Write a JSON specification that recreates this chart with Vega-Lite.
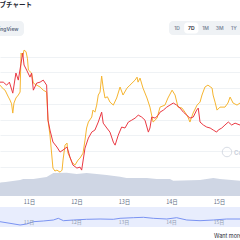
{
"$schema":"https://vega.github.io/schema/vega-lite/v6.json",
"width":240,"height":240,"autosize":"none","padding":0,"background":"#ffffff",
"config":{"view":{"stroke":null},"font":"Inter"},
"datasets":{
"price":[
{"h":9.35,"v":71.9,"s":"compare"},{"h":11.0,"v":69.5,"s":"compare"},{"h":11.9,"v":68.7,"s":"compare"},{"h":13.6,"v":64.3,"s":"compare"},{"h":14.4,"v":62.4,"s":"compare"},{"h":15.2,"v":60.0,"s":"compare"},{"h":15.8,"v":54.1,"s":"compare"},{"h":16.4,"v":60.5,"s":"compare"},{"h":17.4,"v":63.7,"s":"compare"},{"h":18.6,"v":65.6,"s":"compare"},{"h":19.5,"v":67.5,"s":"compare"},{"h":20.0,"v":92.3,"s":"compare"},{"h":20.8,"v":90.0,"s":"compare"},{"h":21.5,"v":94.2,"s":"compare"},{"h":22.5,"v":93.2,"s":"compare"},{"h":23.2,"v":89.0,"s":"compare"},{"h":23.7,"v":81.5,"s":"compare"},{"h":25.3,"v":79.6,"s":"compare"},{"h":26.2,"v":73.2,"s":"compare"},{"h":27.9,"v":71.9,"s":"compare"},{"h":29.6,"v":70.7,"s":"compare"},{"h":31.2,"v":68.7,"s":"compare"},{"h":32.9,"v":67.5,"s":"compare"},{"h":33.6,"v":49.6,"s":"compare"},{"h":34.6,"v":40.1,"s":"compare"},{"h":36.1,"v":19.1,"s":"compare"},{"h":37.1,"v":17.2,"s":"compare"},{"h":38.1,"v":17.8,"s":"compare"},{"h":39.7,"v":16.5,"s":"compare"},{"h":40.7,"v":17.8,"s":"compare"},{"h":41.2,"v":24.2,"s":"compare"},{"h":42.2,"v":33.7,"s":"compare"},{"h":43.2,"v":35.0,"s":"compare"},{"h":43.7,"v":28.6,"s":"compare"},{"h":45.7,"v":22.9,"s":"compare"},{"h":47.2,"v":21.0,"s":"compare"},{"h":48.8,"v":24.2,"s":"compare"},{"h":49.8,"v":25.5,"s":"compare"},{"h":51.3,"v":28.6,"s":"compare"},{"h":52.3,"v":36.9,"s":"compare"},{"h":53.1,"v":44.6,"s":"compare"},{"h":54.0,"v":48.4,"s":"compare"},{"h":55.7,"v":51.6,"s":"compare"},{"h":56.3,"v":56.0,"s":"compare"},{"h":57.3,"v":54.7,"s":"compare"},{"h":58.2,"v":59.2,"s":"compare"},{"h":59.0,"v":65.6,"s":"compare"},{"h":59.9,"v":67.5,"s":"compare"},{"h":60.7,"v":77.7,"s":"compare"},{"h":61.5,"v":70.0,"s":"compare"},{"h":62.4,"v":63.7,"s":"compare"},{"h":63.6,"v":64.5,"s":"compare"},{"h":64.9,"v":61.1,"s":"compare"},{"h":66.6,"v":59.2,"s":"compare"},{"h":68.3,"v":63.7,"s":"compare"},{"h":70.0,"v":70.7,"s":"compare"},{"h":71.5,"v":65.6,"s":"compare"},{"h":73.5,"v":70.0,"s":"compare"},{"h":75.0,"v":71.9,"s":"compare"},{"h":77.6,"v":75.1,"s":"compare"},{"h":78.6,"v":77.0,"s":"compare"},{"h":79.1,"v":73.8,"s":"compare"},{"h":80.1,"v":76.4,"s":"compare"},{"h":81.6,"v":70.0,"s":"compare"},{"h":83.6,"v":63.7,"s":"compare"},{"h":85.1,"v":57.9,"s":"compare"},{"h":86.7,"v":48.4,"s":"compare"},{"h":88.7,"v":50.9,"s":"compare"},{"h":90.2,"v":57.9,"s":"compare"},{"h":92.7,"v":59.2,"s":"compare"},{"h":94.2,"v":63.7,"s":"compare"},{"h":96.3,"v":68.7,"s":"compare"},{"h":97.8,"v":65.6,"s":"compare"},{"h":99.3,"v":57.9,"s":"compare"},{"h":101.3,"v":57.3,"s":"compare"},{"h":102.8,"v":54.7,"s":"compare"},{"h":104.3,"v":51.6,"s":"compare"},{"h":105.3,"v":48.4,"s":"compare"},{"h":106.9,"v":54.1,"s":"compare"},{"h":108.9,"v":59.2,"s":"compare"},{"h":110.4,"v":61.1,"s":"compare"},{"h":111.4,"v":65.6,"s":"compare"},{"h":112.9,"v":70.7,"s":"compare"},{"h":114.4,"v":71.9,"s":"compare"},{"h":116.5,"v":70.0,"s":"compare"},{"h":117.0,"v":65.6,"s":"compare"},{"h":118.0,"v":61.1,"s":"compare"},{"h":119.0,"v":56.0,"s":"compare"},{"h":120.5,"v":57.9,"s":"compare"},{"h":123.0,"v":57.9,"s":"compare"},{"h":124.5,"v":60.5,"s":"compare"},{"h":125.6,"v":64.3,"s":"compare"},{"h":127.1,"v":60.5,"s":"compare"},{"h":129.1,"v":59.2,"s":"compare"},{"h":130.6,"v":60.5,"s":"compare"},
{"h":9.35,"v":73.8,"s":"price"},{"h":11.0,"v":73.8,"s":"price"},{"h":12.7,"v":71.9,"s":"price"},{"h":14.1,"v":73.8,"s":"price"},{"h":15.8,"v":66.8,"s":"price"},{"h":17.4,"v":79.6,"s":"price"},{"h":18.6,"v":75.1,"s":"price"},{"h":20.0,"v":85.9,"s":"price"},{"h":20.8,"v":92.3,"s":"price"},{"h":21.5,"v":84.7,"s":"price"},{"h":22.8,"v":81.5,"s":"price"},{"h":24.5,"v":77.0,"s":"price"},{"h":25.3,"v":79.6,"s":"price"},{"h":26.2,"v":68.7,"s":"price"},{"h":27.9,"v":73.2,"s":"price"},{"h":29.6,"v":73.8,"s":"price"},{"h":31.2,"v":75.1,"s":"price"},{"h":32.9,"v":71.9,"s":"price"},{"h":33.6,"v":49.6,"s":"price"},{"h":34.6,"v":43.3,"s":"price"},{"h":36.1,"v":35.7,"s":"price"},{"h":38.1,"v":32.5,"s":"price"},{"h":39.7,"v":29.3,"s":"price"},{"h":41.2,"v":30.6,"s":"price"},{"h":43.2,"v":32.5,"s":"price"},{"h":44.7,"v":26.1,"s":"price"},{"h":46.2,"v":21.0,"s":"price"},{"h":48.2,"v":19.1,"s":"price"},{"h":49.8,"v":19.7,"s":"price"},{"h":50.6,"v":17.8,"s":"price"},{"h":52.3,"v":31.8,"s":"price"},{"h":54.0,"v":38.2,"s":"price"},{"h":55.7,"v":42.0,"s":"price"},{"h":57.3,"v":43.3,"s":"price"},{"h":59.0,"v":48.4,"s":"price"},{"h":60.7,"v":54.7,"s":"price"},{"h":61.5,"v":47.7,"s":"price"},{"h":63.3,"v":44.6,"s":"price"},{"h":64.9,"v":42.0,"s":"price"},{"h":66.6,"v":35.6,"s":"price"},{"h":67.5,"v":33.7,"s":"price"},{"h":69.1,"v":40.1,"s":"price"},{"h":70.8,"v":45.2,"s":"price"},{"h":72.5,"v":44.6,"s":"price"},{"h":74.2,"v":48.4,"s":"price"},{"h":75.9,"v":49.6,"s":"price"},{"h":77.6,"v":50.9,"s":"price"},{"h":79.2,"v":52.8,"s":"price"},{"h":80.9,"v":51.6,"s":"price"},{"h":82.6,"v":49.6,"s":"price"},{"h":84.3,"v":42.0,"s":"price"},{"h":85.1,"v":44.6,"s":"price"},{"h":86.0,"v":51.6,"s":"price"},{"h":87.7,"v":50.9,"s":"price"},{"h":89.3,"v":52.8,"s":"price"},{"h":90.2,"v":54.7,"s":"price"},{"h":91.9,"v":56.0,"s":"price"},{"h":93.6,"v":57.9,"s":"price"},{"h":95.2,"v":59.2,"s":"price"},{"h":96.9,"v":60.5,"s":"price"},{"h":98.6,"v":59.2,"s":"price"},{"h":100.3,"v":57.3,"s":"price"},{"h":102.0,"v":54.7,"s":"price"},{"h":103.7,"v":52.8,"s":"price"},{"h":105.3,"v":50.9,"s":"price"},{"h":107.0,"v":51.6,"s":"price"},{"h":108.7,"v":56.0,"s":"price"},{"h":109.5,"v":57.3,"s":"price"},{"h":110.4,"v":48.4,"s":"price"},{"h":112.1,"v":46.5,"s":"price"},{"h":113.8,"v":45.2,"s":"price"},{"h":115.5,"v":44.6,"s":"price"},{"h":117.1,"v":43.3,"s":"price"},{"h":118.8,"v":42.0,"s":"price"},{"h":119.6,"v":43.3,"s":"price"},{"h":121.4,"v":44.6,"s":"price"},{"h":123.0,"v":46.5,"s":"price"},{"h":124.7,"v":48.4,"s":"price"},{"h":126.4,"v":46.5,"s":"price"},{"h":128.1,"v":47.7,"s":"price"},{"h":130.6,"v":46.5,"s":"price"}
],
"volume":[
{"h":9.35,"vol":13.3},{"h":19.5,"vol":16},{"h":21.1,"vol":17},{"h":26.2,"vol":17},{"h":32.9,"vol":19},{"h":36.3,"vol":23},{"h":43.0,"vol":23.3},{"h":48.1,"vol":22},{"h":53.1,"vol":23},{"h":58.2,"vol":22},{"h":63.2,"vol":21},{"h":70.0,"vol":19.3},{"h":73.3,"vol":18},{"h":83.5,"vol":18},{"h":88.5,"vol":17},{"h":95.2,"vol":17},{"h":96.9,"vol":15.3},{"h":110.4,"vol":16},{"h":117.1,"vol":18},{"h":120.5,"vol":17},{"h":130.6,"vol":15.3}
],
"nav":[
{"h":9.35,"n":18.3},{"h":14.4,"n":16.7},{"h":19.5,"n":15},{"h":22.8,"n":16},{"h":26.2,"n":18.3},{"h":31.2,"n":19},{"h":36.3,"n":20},{"h":38.8,"n":21.7},{"h":41.4,"n":19.3},{"h":46.4,"n":20},{"h":53.1,"n":20.7},{"h":59.9,"n":21},{"h":66.6,"n":20.7},{"h":70.0,"n":21.7},{"h":76.7,"n":22.3},{"h":81.8,"n":22.7},{"h":86.8,"n":21.7},{"h":93.6,"n":21},{"h":98.6,"n":22.3},{"h":103.7,"n":20},{"h":110.4,"n":19.3},{"h":117.1,"n":20},{"h":123.9,"n":21},{"h":130.6,"n":21}
],
"days":[{"h":24,"d":"11日"},{"h":48,"d":"12日"},{"h":72,"d":"13日"},{"h":96,"d":"14日"},{"h":120,"d":"15日"}],
"buttons":[{"b":"1D"},{"b":"7D"},{"b":"1M"},{"b":"3M"},{"b":"1Y"}]
},
"layer":[
{"data":{"values":[{"t":"ライブチャート"}]},"mark":{"type":"text","align":"right","baseline":"middle","fontSize":6.5,"fontWeight":"bold","font":"Noto Sans CJK JP","color":"#222531"},
 "encoding":{"text":{"field":"t"},"x":{"datum":32,"type":"quantitative","scale":{"domain":[0,240],"nice":false,"zero":false},"axis":null},"y":{"datum":5,"type":"quantitative","scale":{"domain":[0,240],"reverse":true,"nice":false,"zero":false},"axis":null}}},
{"data":{"values":[{}]},"mark":{"type":"rect","cornerRadius":4,"color":"#eff2f5"},
 "encoding":{"x":{"datum":-10,"type":"quantitative","scale":{"domain":[0,240],"nice":false,"zero":false},"axis":null},"x2":{"datum":24},"y":{"datum":21,"type":"quantitative","scale":{"domain":[0,240],"reverse":true,"nice":false,"zero":false},"axis":null},"y2":{"datum":36}}},
{"data":{"values":[{"t":"TradingView"}]},"mark":{"type":"text","align":"right","baseline":"middle","fontSize":5,"fontWeight":600,"color":"#58667e"},
 "encoding":{"text":{"field":"t"},"x":{"datum":18.5,"type":"quantitative","scale":{"domain":[0,240],"nice":false,"zero":false},"axis":null},"y":{"datum":28.5,"type":"quantitative","scale":{"domain":[0,240],"reverse":true,"nice":false,"zero":false},"axis":null}}},
{"data":{"values":[{}]},"mark":{"type":"rect","cornerRadius":4,"color":"#eff2f5"},
 "encoding":{"x":{"datum":169,"type":"quantitative","scale":{"domain":[0,240],"nice":false,"zero":false},"axis":null},"x2":{"datum":246},"y":{"datum":21,"type":"quantitative","scale":{"domain":[0,240],"reverse":true,"nice":false,"zero":false},"axis":null},"y2":{"datum":35}}},
{"data":{"name":"buttons"},"transform":[{"filter":"datum.b === '7D'"}],"mark":{"type":"rect","cornerRadius":3,"color":"#ffffff"},
 "encoding":{"x":{"field":"b","type":"nominal","sort":null,"scale":{"type":"band","domain":["1D","7D","1M","3M","1Y"],"range":[170,241],"paddingInner":0,"paddingOuter":0},"axis":null},"y":{"datum":22.5,"type":"quantitative","scale":{"domain":[0,240],"reverse":true,"nice":false,"zero":false},"axis":null},"y2":{"datum":33.5}}},
{"data":{"name":"buttons"},"mark":{"type":"text","align":"center","baseline":"middle","fontSize":5,"fontWeight":600},
 "encoding":{"text":{"field":"b"},"x":{"field":"b","type":"nominal","sort":null,"scale":{"type":"band","domain":["1D","7D","1M","3M","1Y"],"range":[170,241],"paddingInner":0,"paddingOuter":0},"axis":null},"y":{"datum":28,"type":"quantitative","scale":{"domain":[0,240],"reverse":true,"nice":false,"zero":false},"axis":null},
 "color":{"condition":{"test":"datum.b === '7D'","value":"#222531"},"value":"#808a9d"}}},
{"data":{"name":"volume"},"mark":{"type":"area","color":"#cfd6e4","opacity":1},
 "encoding":{"x":{"field":"h","type":"quantitative","scale":{"domain":[9.35,130.6],"nice":false,"zero":false},"axis":null},"y":{"field":"vol","type":"quantitative","scale":{"domain":[-44,196],"nice":false,"zero":false},"axis":null},"y2":{"datum":0}}},
{"data":{"name":"price"},"mark":{"type":"line","strokeWidth":1,"interpolate":"linear"},
 "encoding":{"x":{"field":"h","type":"quantitative","scale":{"domain":[9.35,130.6],"nice":false,"zero":false},
   "axis":{"orient":"bottom","values":[24,48,72,96,120],"labelExpr":"(datum.value/24+10)+'日'","offset":-41,"labelPadding":0,"ticks":false,"domain":false,"grid":false,"labelFontSize":5.5,"labelColor":"#616e85","labelFont":"Noto Sans CJK JP","title":null}},
  "y":{"field":"v","type":"quantitative","scale":{"domain":[-26.7,126.1],"nice":false,"zero":false},
   "axis":{"orient":"left","values":[10,20,30,40,50,60,70,80,90],"grid":true,"gridColor":"#eff2f5","gridWidth":1,"labels":false,"ticks":false,"domain":false,"title":null}},
  "color":{"field":"s","type":"nominal","scale":{"domain":["compare","price"],"range":["#f6b530","#ea3943"]},"legend":null},
  "order":{"field":"h","type":"quantitative"}}},
{"data":{"values":[{}]},"mark":{"type":"rect","color":"#e8edfd"},
 "encoding":{"y":{"datum":13,"type":"quantitative","scale":{"domain":[0,240],"nice":false,"zero":false},"axis":null},"y2":{"datum":33}}},
{"data":{"name":"nav"},"mark":{"type":"line","strokeWidth":1,"color":"#7a93f2"},
 "encoding":{"x":{"field":"h","type":"quantitative","scale":{"domain":[9.35,130.6],"nice":false,"zero":false},"axis":null},"y":{"field":"n","type":"quantitative","scale":{"domain":[0,240],"nice":false,"zero":false},"axis":null}}},
{"data":{"name":"days"},"mark":{"type":"text","align":"center","baseline":"middle","fontSize":5,"font":"Noto Sans CJK JP","color":"#8f9ab0"},
 "encoding":{"text":{"field":"d"},"x":{"field":"h","type":"quantitative","scale":{"domain":[9.35,130.6],"nice":false,"zero":false},"axis":null},"y":{"datum":18,"type":"quantitative","scale":{"domain":[0,240],"nice":false,"zero":false},"axis":null}}},
{"data":{"values":[{}]},"mark":{"type":"point","shape":"circle","size":90,"filled":false,"stroke":"#c9cfdb","strokeWidth":1},
 "encoding":{"x":{"datum":227,"type":"quantitative","scale":{"domain":[0,240],"nice":false,"zero":false},"axis":null},"y":{"datum":152,"type":"quantitative","scale":{"domain":[0,240],"reverse":true,"nice":false,"zero":false},"axis":null}}},
{"data":{"values":[{"t":"CoinMarketCap"}]},"mark":{"type":"text","align":"left","baseline":"middle","fontSize":6,"fontWeight":"bold","color":"#c9cfdb"},
 "encoding":{"text":{"field":"t"},"x":{"datum":234,"type":"quantitative","scale":{"domain":[0,240],"nice":false,"zero":false},"axis":null},"y":{"datum":152.5,"type":"quantitative","scale":{"domain":[0,240],"reverse":true,"nice":false,"zero":false},"axis":null}}},
{"data":{"values":[{"t":"Want more data? Check out our API"}]},"mark":{"type":"text","align":"left","baseline":"middle","fontSize":5.5,"color":"#222531"},
 "encoding":{"text":{"field":"t"},"x":{"datum":214,"type":"quantitative","scale":{"domain":[0,240],"nice":false,"zero":false},"axis":null},"y":{"datum":236,"type":"quantitative","scale":{"domain":[0,240],"reverse":true,"nice":false,"zero":false},"axis":null}}}
],
"resolve":{"scale":{"x":"independent","y":"independent","color":"independent"}}
}
